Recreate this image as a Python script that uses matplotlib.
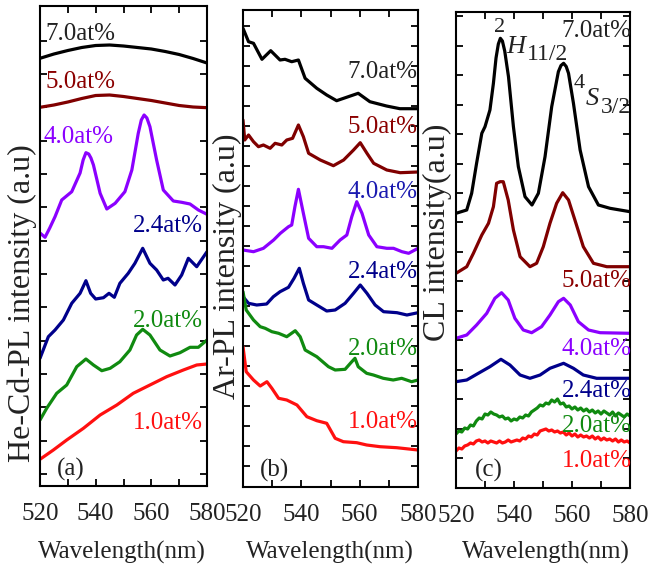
import numpy as np
import matplotlib
matplotlib.use("Agg")
import matplotlib.pyplot as plt

plt.rcParams['font.family'] = ['Liberation Serif', 'DejaVu Serif']

# ---------------- data (a.u.) ----------------
labels = ['7.0at%', '5.0at%', '4.0at%', '2.4at%', '2.0at%', '1.0at%']
colors = ['#000000', '#800000', '#8b00ff', '#00008b', '#108a10', '#ff1010']

# Panel (a) He-Cd-PL
a_wl_smooth = [520, 525, 530, 535, 540, 545, 550, 555, 560, 565, 570, 575, 580]
a_70 = [427.7, 432, 435.5, 438.5, 440.5, 441, 440, 438.5, 437, 434.5, 431.5, 427.5, 423]
a_50 = [378.7, 381, 384, 387.5, 390.5, 391, 389.5, 387.5, 385.5, 383, 380.5, 379, 378.3]
a_40_wl = [520, 521.8, 523.5, 525.4, 527.8, 531.4, 534.4, 535.5, 536.5, 537.5, 538.3, 539.2, 541.6,
           544, 547, 550.5, 553, 555.3, 556.4, 557.4, 558.4, 559.5, 561.9, 564.3, 567.9, 570.9,
           573.9, 576.9, 580]
a_40 = [253, 248.7, 258, 269.3, 286, 294.3, 313, 326, 333.3, 332, 328, 321, 292.7,
        277, 282.7, 294.3, 316, 352.7, 366, 371, 368, 359.3, 326, 296, 285, 283.7,
        282, 276, 271.7]
a_24_wl = [520, 523, 525.4, 528.4, 531.4, 534.4, 536.5, 538.2, 540, 542.8, 544.8, 546.7, 548.7,
           551.7, 554.1, 556.9, 559.5, 561.9, 564.3, 566, 568.5, 570.9, 573.3, 576.3, 580]
a_24 = [127.7, 149.3, 156, 166, 182.7, 192.7, 205.3, 192.7, 187, 188.3, 192.7, 188.7, 202.7,
        212.7, 222.7, 237.7, 222.7, 216, 206, 207.7, 201, 211, 227.7, 219.3, 234.3]
a_20_wl = [520, 522.4, 526, 529.6, 533.2, 536.5, 539.2, 542.2, 545.2, 548.7, 552.3, 554.7, 556.9,
           559.5, 563.1, 566.7, 570.3, 573.9, 576.9, 580]
a_20 = [66, 77.7, 92.7, 101, 119.3, 127, 121, 115.3, 117.7, 124.3, 136, 151, 156.7,
        151, 136, 130, 133.3, 138.7, 138.7, 146]
a_10_wl = [520, 524.8, 529.6, 535.6, 541.6, 547.6, 553.5, 559.5, 565.5, 571.5, 576.3, 580]
a_10 = [26.7, 36, 46, 57.7, 71, 81, 92.7, 101, 109.3, 116, 121, 122]

# Panel (b) Ar-PL
b_70_wl = [520, 521.9, 523.6, 526.5, 529.5, 532.7, 534.4, 536.7, 539, 541.3, 545.3, 548.7, 552.1,
           556.1, 559.5, 563.5, 569.2, 573.8, 580]
b_70 = [458.7, 445.3, 443.7, 427.7, 436.3, 427, 427.7, 425.3, 427, 408.7, 398.7, 392, 386.3,
        390.3, 393.7, 385.3, 381, 378.3, 378.3]
b_50_wl = [520, 520.6, 521.9, 523.6, 525.3, 527, 529.3, 531, 533.3, 535, 537, 539, 540.7, 542.5,
           546.5, 551, 554.5, 557.9, 560.2, 562.5, 564.8, 569.3, 573.9, 580]
b_50 = [367, 347, 352, 345.3, 340.3, 342, 338.7, 343.7, 342, 347, 348.7, 362, 350.3, 333.7,
        327, 321.3, 327, 337, 344.3, 333.7, 323.7, 317, 314.3, 315]
b_40_wl = [520, 523.6, 527, 530.5, 532.8, 535.6, 536.7, 537.8, 539, 540.7, 542.5, 545.3, 547.6,
           550.5, 553.3, 555.6, 557.3, 559, 560.8, 563.1, 565.9, 569.3, 571.6, 574.5, 576.8, 580]
b_40 = [237, 235.3, 238.7, 247, 253.7, 260.3, 262, 280.3, 297.7, 273.7, 248.7, 240.3, 240.3,
        238.7, 247, 252, 270.3, 285.3, 273.7, 252, 240.3, 238.7, 238.7, 235.3, 233.7, 238.7]
b_24_wl = [520, 521.9, 524.7, 528.1, 530.4, 532.7, 535.6, 537.5, 539.3, 540.7, 542.5, 545.3,
           548.7, 551.6, 555, 557.9, 560.2, 562.5, 565.3, 568.2, 572.8, 576.2, 580]
b_24 = [190.3, 183.7, 182, 183, 190.3, 195.3, 199.7, 208.7, 218.7, 203.7, 187, 182,
        176, 177, 183.7, 193.7, 202, 193.7, 182, 175.3, 174.3, 172, 174.3]
b_20_wl = [520, 521.1, 523.6, 525.9, 527.6, 529.9, 532.2, 535, 537.9, 539.6, 541.3, 545.3, 549.3,
           551.6, 555, 557.3, 558.4, 559.5, 562.4, 564.7, 568.1, 571.5, 574.4, 577.8, 580]
b_20 = [195.3, 177, 167, 160.3, 158.7, 155.3, 153.7, 150.3, 156.3, 150.3, 137, 130.3, 120.3,
        117, 117.7, 125.3, 128.7, 120.3, 113.7, 112, 108.7, 107, 108.7, 105.3, 107]
b_10_wl = [520, 521.1, 523.6, 525.9, 528.2, 529.9, 532.2, 535, 538.5, 541.9, 545.3, 548.7,
           551.6, 554.4, 559, 562.4, 567, 572.7, 580]
b_10 = [140.3, 115.3, 107, 101, 105.3, 98.7, 88.7, 87, 82, 70.3, 66.3, 63.7,
        48.7, 45.3, 44.3, 42, 40.3, 39.3, 37]

# Panel (c) CL
c_70_wl = [520, 523.7, 525.4, 527.1, 528.9, 530, 531.7, 532.9, 533.8, 534.6, 535.3, 536, 536.8,
           538.1, 539.8, 541.5, 543.8, 546.2, 548.4, 550.7, 553, 555.3, 556.2, 557.1, 558,
           558.8, 560.5, 562.8, 565.7, 569.1, 573.1, 580]
c_70 = [274.7, 278, 294.7, 324.7, 354.7, 361.3, 378, 404.7, 430, 444, 449.7, 447, 437,
        411.3, 361.3, 321.3, 291.3, 283, 294.7, 331.3, 381.3, 416.3, 422.5, 424.7, 421.5,
        414.7, 384.7, 338, 301.3, 283, 279.7, 276.3]
c_50_wl = [520, 523.7, 526, 528.9, 531.2, 532.9, 534, 535.2, 536.3, 538, 539.8, 542.1, 545.5,
           547.8, 550.1, 552.4, 554.7, 556.8, 558.8, 561, 563.9, 567.4, 572, 580]
c_50 = [214.7, 221.3, 234.7, 253, 264.7, 281.3, 304.7, 306.3, 306.3, 288, 258, 231.3, 221.3,
        224.7, 241.3, 264.7, 284.7, 295.3, 288, 268, 241.3, 224.7, 221.3, 221.3]
c_40_wl = [520, 523.7, 527.1, 530.6, 533.4, 535.7, 538, 540.3, 543.2, 546.1, 549.5, 552.4,
           555.3, 557.1, 559.4, 562.2, 565.7, 569.7, 580]
c_40 = [149.7, 153, 163, 174.7, 189.7, 195.3, 188, 169.7, 158, 155.3, 161.3, 173,
        186.3, 189.7, 183, 166.3, 158, 155.3, 154.7]
c_24_wl = [520, 523.7, 527.7, 531.7, 535.5, 538.6, 542.1, 545.5, 549, 552.4, 557.1, 560.5,
           563.9, 568.5, 580]
c_24 = [106.3, 108, 114.7, 121.3, 128.7, 123, 113, 109.7, 113, 119.7, 124.7, 119.7,
        113, 109.7, 109.7]
c_noisy_wl = list(range(520, 581))
c_20 = [54, 57, 56, 60, 59, 63, 62, 67, 70, 69, 74, 73, 76, 74, 73, 71, 72, 69, 70, 67,
        69, 68, 71, 70, 73, 72, 76, 78, 80, 83, 82, 85, 84, 88, 86, 89, 84, 85, 81, 82,
        79, 81, 78, 80, 77, 79, 76, 78, 75, 77, 74, 77, 75, 73, 76, 72, 75, 73, 71, 74, 72]
c_10 = [37, 40, 39, 42, 43, 45, 44, 47, 48, 46, 47, 45, 47, 46, 45, 47, 45, 46, 48, 46,
        47, 48, 47, 50, 49, 52, 51, 54, 53, 57, 58, 59, 57, 58, 56, 57, 55, 56, 53, 55,
        52, 54, 51, 53, 51, 52, 50, 52, 49, 51, 48, 50, 48, 49, 47, 49, 46, 48, 46, 47, 45]

x_ticks = [520, 540, 560, 580]

# ---------------- figure ----------------
W, H = 649, 571
fig = plt.figure(figsize=(W / 100, H / 100), dpi=100)


def add_axes_px(left, top, right, bottom):
    return fig.add_axes([left / W, 1 - bottom / H, (right - left) / W, (bottom - top) / H])


axA = add_axes_px(40, 6, 207, 486)
axB = add_axes_px(243, 10, 418, 487)
axC = add_axes_px(456, 12, 630, 488)

lw = 2.3
series_a = [(a_wl_smooth, a_70), (a_wl_smooth, a_50), (a_40_wl, a_40), (a_24_wl, a_24),
            (a_20_wl, a_20), (a_10_wl, a_10)]
series_b = [(b_70_wl, b_70), (b_50_wl, b_50), (b_40_wl, b_40), (b_24_wl, b_24),
            (b_20_wl, b_20), (b_10_wl, b_10)]
series_c = [(c_70_wl, c_70), (c_50_wl, c_50), (c_40_wl, c_40), (c_24_wl, c_24),
            (c_noisy_wl, c_20), (c_noisy_wl, c_10)]

for ax, series in [(axA, series_a), (axB, series_b), (axC, series_c)]:
    for (xw, yv), col in zip(series, colors):
        ax.plot(xw, yv, color=col, lw=lw, solid_joinstyle='round', solid_capstyle='round')

axA.set_ylim(0, 480)
axB.set_ylim(0, 477)
axC.set_ylim(0, 476)
axA.set_yticks(np.arange(12, 470, 33.33))
axB.set_yticks(np.arange(21, 470, 20))
axC.set_yticks(np.arange(30, 474, 29.45))

for ax in (axA, axB, axC):
    ax.set_xlim(520, 580)
    ax.set_xticks(x_ticks)
    ax.set_xticks([530, 550, 570], minor=True)
    ax.set_yticklabels([])
    ax.tick_params(which='both', direction='in', top=True, right=True, length=5, width=1.3,
                   labelsize=18, labelcolor='#222222', pad=12)
    for s in ax.spines.values():
        s.set_linewidth(1.5)

# ---------------- labels ----------------
lab_fs = 18
txt_cols = ['#222222', '#8b0000', '#8b00ff', '#00008b', '#108a10', '#ff1010']

# panel a
a_pos = [(521.8, 446, 'left'), (521.8, 398, 'left'), (521.1, 343, 'left'),
         (578.4, 254, 'right'), (578.4, 159, 'right'), (578.4, 57, 'right')]
for (x, y, ha), t, c in zip(a_pos, labels, txt_cols):
    axA.text(x, y, t, color=c, fontsize=lab_fs, ha=ha, va='baseline')
axA.text(526.0, 10, '(a)', color='#222222', fontsize=lab_fs, ha='left', va='baseline')

# panel b
b_cols = ['#222222', '#8b0000', '#1a1ab0', '#00008b', '#108a10', '#ff1010']
b_y = [409, 354, 289, 209, 132, 59]
for y, t, c in zip(b_y, labels, b_cols):
    axB.text(579.8, y, t, color=c, fontsize=lab_fs, ha='right', va='baseline')
axB.text(525.8, 10, '(b)', color='#222222', fontsize=lab_fs, ha='left', va='baseline')

# panel c
c_y = [451, 201, 133, 91, 56, 21]
for y, t, c in zip(c_y, labels, txt_cols):
    axC.text(580.6, y, t, color=c, fontsize=lab_fs, ha='right', va='baseline', clip_on=False)
axC.text(526.6, 11, '(c)', color='#222222', fontsize=lab_fs, ha='left', va='baseline')
# term symbols 2H11/2 and 4S3/2
axC.text(533.0, 456, '2', color='#222222', fontsize=16, ha='left', va='baseline')
axC.text(537.4, 435, 'H', color='#222222', fontsize=19, style='italic', ha='left', va='baseline')
axC.text(544.6, 428, '11/2', color='#222222', fontsize=17, ha='left', va='baseline')
axC.text(560.6, 400, '4', color='#222222', fontsize=16, ha='left', va='baseline')
axC.text(564.6, 383, 'S', color='#222222', fontsize=19, style='italic', ha='left', va='baseline')
axC.text(569.8, 375, '3/2', color='#222222', fontsize=17, ha='left', va='baseline',
         clip_on=False)

# axis titles
ylab_fs = 23
fig.text(22 / W, 1 - 303 / H, 'He-Cd-PL intensity (a.u)', rotation=90, ha='center', va='center',
         fontsize=ylab_fs, color='#222222')
fig.text(227 / W, 1 - 266 / H, 'Ar-PL intensity (a.u)', rotation=90, ha='center', va='center',
         fontsize=ylab_fs, color='#222222')
fig.text(437 / W, 1 - 232 / H, 'CL intensity(a.u)', rotation=90, ha='center', va='center',
         fontsize=ylab_fs, color='#222222')
for xc in (122, 330, 546):
    fig.text(xc / W, 1 - 552 / H, 'Wavelength(nm)', ha='center', va='center', fontsize=18,
             color='#222222')

fig.savefig('out.png', dpi=100)
